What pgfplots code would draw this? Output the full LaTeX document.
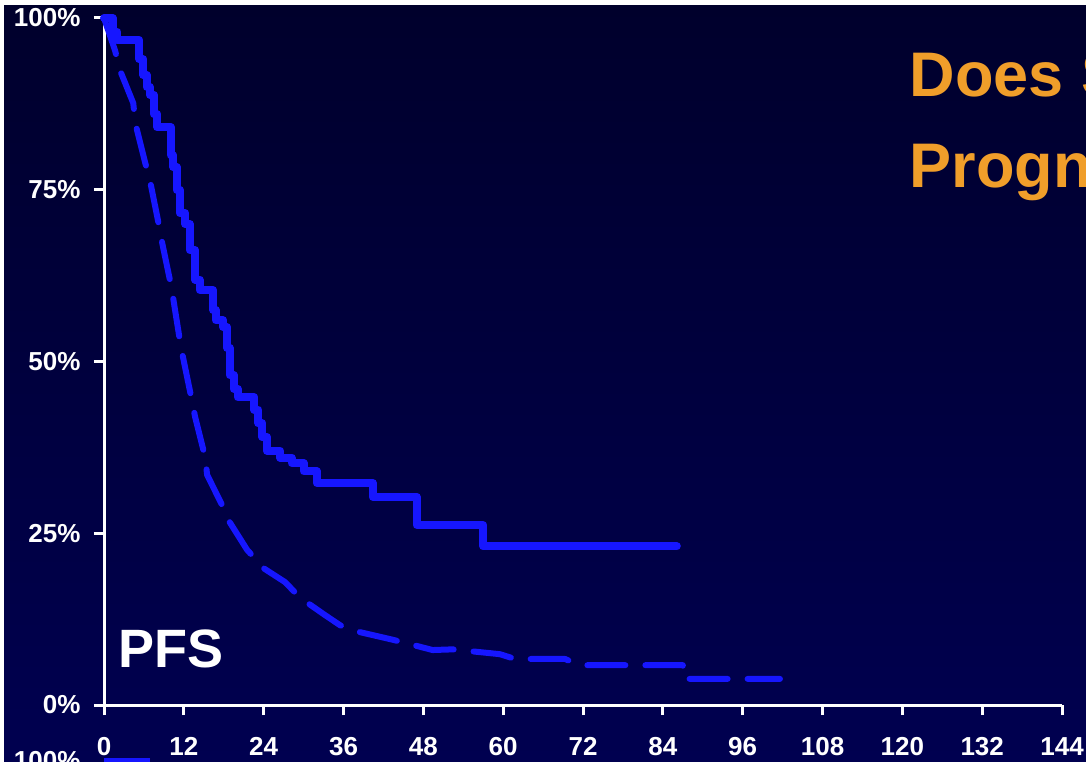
\documentclass[border=0pt]{standalone}
\usepackage{fontspec}
\setmainfont{Liberation Sans}
\usepackage{pgfplots}
\pgfplotsset{compat=1.18}
\definecolor{navytop}{RGB}{0,0,44}
\definecolor{navybot}{RGB}{0,0,80}
\definecolor{kmblue}{RGB}{22,22,255}
\definecolor{titleorange}{RGB}{240,158,42}
\begin{document}
\begin{tikzpicture}[x=1pt,y=1pt]
\useasboundingbox (0,0) rectangle (1086,761);
\clip (0,0) rectangle (1086,761);
\fill[white] (0,0) rectangle (1086,761);
\shade[top color=navytop,bottom color=navybot] (4,0) rectangle (1086,755);
\begin{axis}[
 at={(104pt,56pt)}, anchor=south west,
 x=6.653pt, y=6.87pt,
 xmin=0,xmax=144,ymin=0,ymax=100,
 axis lines*=left,
 axis line style={white,line width=3pt},
 clip=false,
 xtick={0,12,...,144}, ytick={0,25,50,75,100},
 yticklabels={0\%,25\%,50\%,75\%,100\%},
 tick style={white,line width=3pt},
 major tick length=10pt,
 tick align=outside,
 ticklabel style={font=\fontsize{26}{26}\selectfont\bfseries, text=white},
 /pgf/number format/assume math mode=true,
 xticklabel style={yshift=-19pt},
 yticklabel style={xshift=-10pt},
]
% Solid curve (step function)
\addplot[const plot, kmblue, line width=8pt, line cap=round, line join=round] coordinates {
(0,100)(1.3,98)(2,96.8)(5.3,94)(5.9,91.7)(6.4,90)(6.9,88.8)(7.5,86)(8,84.1)
(10,80)(10.4,78.3)(10.9,75)(11.4,71.6)(12.2,70)(12.9,66.2)(13.7,61.9)(14.4,60.4)
(16.4,57.5)(16.8,56)(17.9,55)(18.5,52)(18.9,48)(19.5,46)(20.1,44.8)(22.6,43)
(23.2,41)(23.8,39)(24.5,37)(26.5,36)(28.2,35.2)(30,34)(32,32.3)(40.4,30.3)
(47,26.2)(57,23.1)(86.1,23.1)};
% Dashed curve
\addplot[kmblue, line width=6pt, line cap=round, line join=round, dash pattern=on 38pt off 20pt] coordinates {
(0,100)(1.65,95.3)(2.4,92.4)(4.4,87.6)(4.7,84.7)(6.2,78.9)(6.9,76.4)(8.1,70.6)
(8.8,67)(9.9,61.9)(10.4,59.2)(11.4,53.1)(11.9,50.5)(13.2,44.4)(13.7,41.9)
(15.2,36.1)(15.5,33.5)(17.9,28.8)(18.9,26.6)(21.5,22.6)(24,19.9)(27.2,17.9)
(29.5,15.6)(33.2,13.1)(35.5,11.6)(38.5,10.6)(43.4,9.5)(49.4,8.0)(52.4,8.1)
(59.5,7.4)(61.8,6.7)(69.3,6.7)(71.4,5.8)(87,5.8)(87,3.8)(101.6,3.8)};
% fragment of the next chart below
\addplot[kmblue, line width=6pt] coordinates {(0,-8.2)(6.9,-8.2)};
\end{axis}
\node[anchor=base west, text=titleorange, font=\fontsize{63}{63}\selectfont\bfseries] at (906,664) {Does S};
\node[anchor=base west, text=titleorange, font=\fontsize{63}{63}\selectfont\bfseries] at (906,573) {Prognosis};
\node[anchor=base west, text=white, font=\fontsize{54}{54}\selectfont\bfseries, inner sep=0pt] at (118,94) {PFS};
\node[anchor=base east, text=white, font=\fontsize{26}{26}\selectfont\bfseries] at (84,-8) {100\%};
\end{tikzpicture}
\end{document}
